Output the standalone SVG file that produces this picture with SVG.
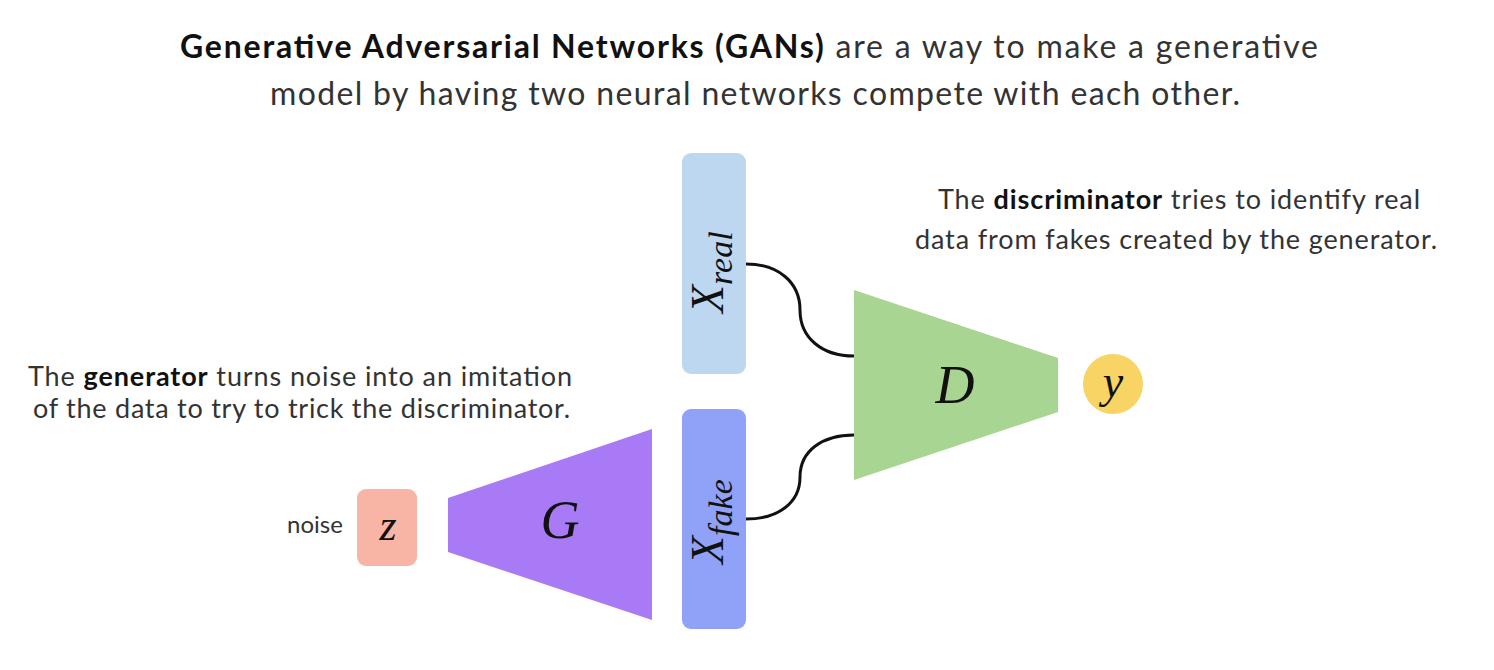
<svg xmlns="http://www.w3.org/2000/svg" width="1494" height="670" viewBox="0 0 1494 670">
<style>
.t{font-family:Lato,"Open Sans","Liberation Sans",sans-serif;fill:#333}
.b{font-weight:bold;fill:#111}
.m{font-family:"Liberation Serif","DejaVu Serif",serif;font-style:italic;fill:#111}
.c{fill:none;stroke:#111;stroke-width:3}
</style>
<rect width="1494" height="670" fill="#fff"/>
<g id="title">
<text class="t" x="180" y="58" font-size="32" textLength="1138" lengthAdjust="spacing"><tspan class="b">Generative Adversarial Networks (GANs)</tspan> are a way to make a generative</text>
<text class="t" x="270" y="105" font-size="32" textLength="970" lengthAdjust="spacing">model by having two neural networks compete with each other.</text>
</g>
<g id="disc-text">
<text class="t" x="938" y="209" font-size="27" textLength="482" lengthAdjust="spacing">The <tspan class="b">discriminator</tspan> tries to identify real</text>
<text class="t" x="915" y="249" font-size="27" textLength="522" lengthAdjust="spacing">data from fakes created by the generator.</text>
</g>
<g id="gen-text">
<text class="t" x="28" y="386" font-size="27" textLength="544" lengthAdjust="spacing">The <tspan class="b">generator</tspan> turns noise into an imitation</text>
<text class="t" x="33" y="418" font-size="27" textLength="537" lengthAdjust="spacing">of the data to try to trick the discriminator.</text>
</g>
<g id="connectors">
<path class="c" d="M746,264 C778,264 800,282 800,310 C800,338 822,356 854,356"/>
<path class="c" d="M746,519 C778,519 800,503 800,477 C800,451 822,435 854,435"/>
</g>
<g id="noise">
<text class="t" x="287" y="533" font-size="24" fill="#444">noise</text>
</g>
<g id="z">
<rect x="357" y="489" width="60" height="77" rx="9" fill="#f8b4a4"/>
<text class="m" x="388" y="540" font-size="44" text-anchor="middle">z</text>
</g>
<g id="G">
<polygon points="448,498 652,429 652,620 448,552" fill="#a97af5"/>
<text class="m" x="560" y="538" font-size="54" text-anchor="middle">G</text>
</g>
<g id="Xreal">
<rect x="682" y="153" width="64" height="221" rx="9" fill="#bdd7f1"/>
<text class="m" transform="translate(723,313) rotate(-90)" font-size="46">X<tspan dy="9" font-size="34">real</tspan></text>
</g>
<g id="Xfake">
<rect x="682" y="409" width="64" height="220" rx="9" fill="#8fa2f7"/>
<text class="m" transform="translate(723,564) rotate(-90)" font-size="46">X<tspan dy="9" font-size="34">fake</tspan></text>
</g>
<g id="D">
<polygon points="854,290 1058,358 1058,412 854,480" fill="#a8d591"/>
<text class="m" x="955" y="403" font-size="54" text-anchor="middle">D</text>
</g>
<g id="y">
<circle cx="1113" cy="384" r="30" fill="#f8d465"/>
<text class="m" x="1113" y="397" font-size="46" text-anchor="middle">y</text>
</g>
</svg>
